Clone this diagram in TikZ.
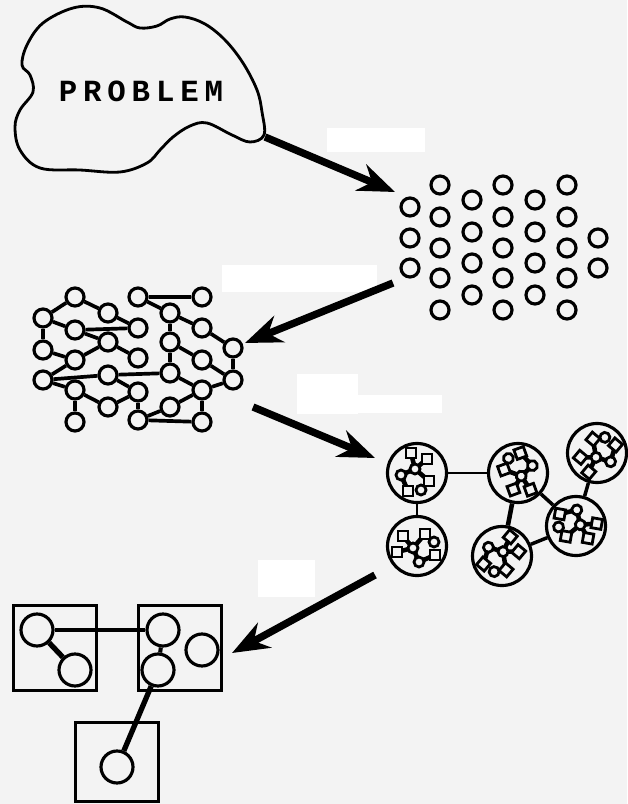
\documentclass[tikz,border=0pt]{standalone}
\usepackage{fontspec}
\newfontfamily\probfont[LetterSpace=19]{Liberation Mono}
\usetikzlibrary{arrows.meta}
\definecolor{paper}{RGB}{243,243,243}

\tikzset{
  bigarrow/.style={line width=4.2pt, -{Stealth[length=21pt,width=16pt]}},
  dot/.style={circle, draw, line width=1.8pt, inner sep=0pt, minimum size=3.6mm},
  link/.style={line width=2.1pt},
  cluster/.style={circle, draw, line width=1.8pt, inner sep=0pt, minimum size=11.8mm},
  bit/.style={draw, line width=1.6pt},
  module/.style={draw, line width=1.8pt, inner sep=0pt, minimum width=16.6mm, minimum height=17mm},
  unit/.style={circle, draw, line width=1.8pt, inner sep=0pt, minimum size=6.4mm},
}

\begin{document}
\begin{tikzpicture}[x=0.2mm, y=-0.2mm]
\fill[paper] (0,0) rectangle (627,804);
\useasboundingbox (0,0) rectangle (627,804);

% Blanked label boxes
\fill[white] (327,128) rectangle (425,152);
\fill[white] (222,265) rectangle (377,292);
\fill[white] (297,374) rectangle (358,414);
\fill[white] (358,395) rectangle (442,413);
\fill[white] (258,560) rectangle (315,597);

% Problem cloud
\draw[line width=1.6pt] plot[smooth cycle, tension=0.6] coordinates {
  (43,23) (73,8) (100,8) (127,22) (140,28) (157,26) (170,19) (185,17)
  (205,24) (225,40) (243,63) (257,90) (262,112) (264,135) (250,142)
  (232,135) (207,123) (190,126) (173,137) (160,150) (147,163) (120,172)
  (80,170) (40,168) (20,150) (15,127) (20,110) (33,92) (30,75) (22,65) (27,45)};
\node[font=\probfont\bfseries\fontsize{17.5pt}{18pt}\selectfont] (prob) at (141,91) {PROBLEM};

% Arrow ends
\coordinate (a1s) at (265,137);
\coordinate (a1e) at (395,192);
\coordinate (a2s) at (393,283);
\coordinate (a2e) at (245,343);
\coordinate (a3s) at (253,407);
\coordinate (a3e) at (375,458);
\coordinate (a4s) at (375,575);
\coordinate (a4e) at (232,653);

% Loose elements
\foreach \cx/\ylist in {410/{207,238,268}, 440/{185,217,248,278,310},
    472/{200,232,263,295}, 503/{185,217,248,278,310}, 535/{200,232,263,295},
    567/{185,217,248,278,310}, 598/{238,268}}
  \foreach \cy in \ylist
    \node[dot] (g\cx-\cy) at (\cx,\cy) {};

% Connected elements
\foreach \n/\px/\py in {na1/75/297, na2/138/297, na3/202/297,
    nb1/43/318, nb2/108/313, nb3/170/313,
    nc1/75/330, nc2/138/328, nc3/202/328,
    nd1/43/350, nd2/108/342, nd3/170/342, nd4/233/348,
    ne1/75/360, ne2/138/358, ne3/202/360,
    nf1/43/380, nf2/108/375, nf3/170/373, nf4/233/380,
    ng1/75/390, ng2/138/392, ng3/202/390,
    nh1/108/407, nh2/170/407,
    ni1/75/422, ni2/138/420, ni3/202/422}
  \node[dot] (\n) at (\px,\py) {};
\foreach \u/\v in {na1/nb1, na1/nb2, na2/na3, na2/nb3, nb1/nc1, nb1/nd1,
    nc1/nc2, nc1/nd2, nb2/nc2, nb3/nc3, nb3/nd3, nc3/nd4, nd1/ne1,
    nd2/ne2, nd2/ne1, nd3/ne3, nd3/nf3, ne1/nf1, nf1/nf2, nf2/nf3,
    ne3/nf4, nf1/ng1, ng1/ni1, ng1/nh1, nf2/ng2, ng2/nh1, ng2/ni2,
    nf3/ng3, nh2/ng3, nh2/ni2, ni2/ni3, ng3/ni3, nf4/ng3, nd4/nf4}
  \draw[link] (\u) -- (\v);

% Clusters
\node[cluster] (k1) at (417,473) {};
\node[cluster] (k2) at (417,546) {};
\node[cluster] (k3) at (518,473) {};
\node[cluster] (k4) at (597,453) {};
\node[cluster] (k5) at (576,526) {};
\node[cluster] (k6) at (502,556) {};
\foreach \k/\rot in {k1/0, k2/90, k3/200, k4/140, k5/260, k6/320}{
  \begin{scope}[shift={(\k)}, rotate=\rot]
    \draw[line width=2.6pt] (-16,2) -- (-2,-4) -- (10,-14);
    \draw[line width=2.6pt] (-2,-4) -- (12,8) -- (4,17);
    \draw[line width=2.6pt] (-16,2) -- (-9,18);
    \draw[line width=2.6pt] (-2,-4) -- (-6,-20);
    \filldraw[bit, fill=paper] (-16,2) circle (5);
    \filldraw[bit, fill=paper] (-2,-4) circle (5);
    \filldraw[bit, fill=paper] (4,17) circle (5);
    \filldraw[bit, fill=paper] (5,-19) rectangle (15,-9);
    \filldraw[bit, fill=paper] (7,3) rectangle (17,13);
    \filldraw[bit, fill=paper] (-11,-25) rectangle (-1,-15);
    \filldraw[bit, fill=paper] (-14,13) rectangle (-4,23);
  \end{scope}
}
\draw[line width=1.6pt] (k1) -- (k2);
\draw[line width=1.2pt] (k1) -- (k3);
\draw[line width=2.6pt] (k3) -- (k6);
\draw[line width=2pt] (k3) -- (k5);
\draw[line width=2pt] (k5) -- (k4);
\draw[line width=2pt] (k6) -- (k5);

% Modules
\node[module] (m1) at (55,648) {};
\node[module] (m2) at (180,648) {};
\node[module, minimum height=15.8mm] (m3) at (117,762) {};
\node[unit] (u1) at (37,630) {};
\node[unit] (u2) at (75,670) {};
\node[unit] (u3) at (163,630) {};
\node[unit] (u4) at (202,650) {};
\node[unit] (u5) at (158,670) {};
\node[unit] (u6) at (117,767) {};
\draw[line width=2.3pt] (u1) -- (u3);
\draw[line width=3pt] (u1) -- (u2);
\draw[line width=2.3pt] (u3) -- (u5);
\draw[line width=3pt] (u5) -- (u6);

% Arrows
\draw[bigarrow] (a1s) -- (a1e);
\draw[bigarrow] (a2s) -- (a2e);
\draw[bigarrow] (a3s) -- (a3e);
\draw[bigarrow] (a4s) -- (a4e);
\end{tikzpicture}
\end{document}
